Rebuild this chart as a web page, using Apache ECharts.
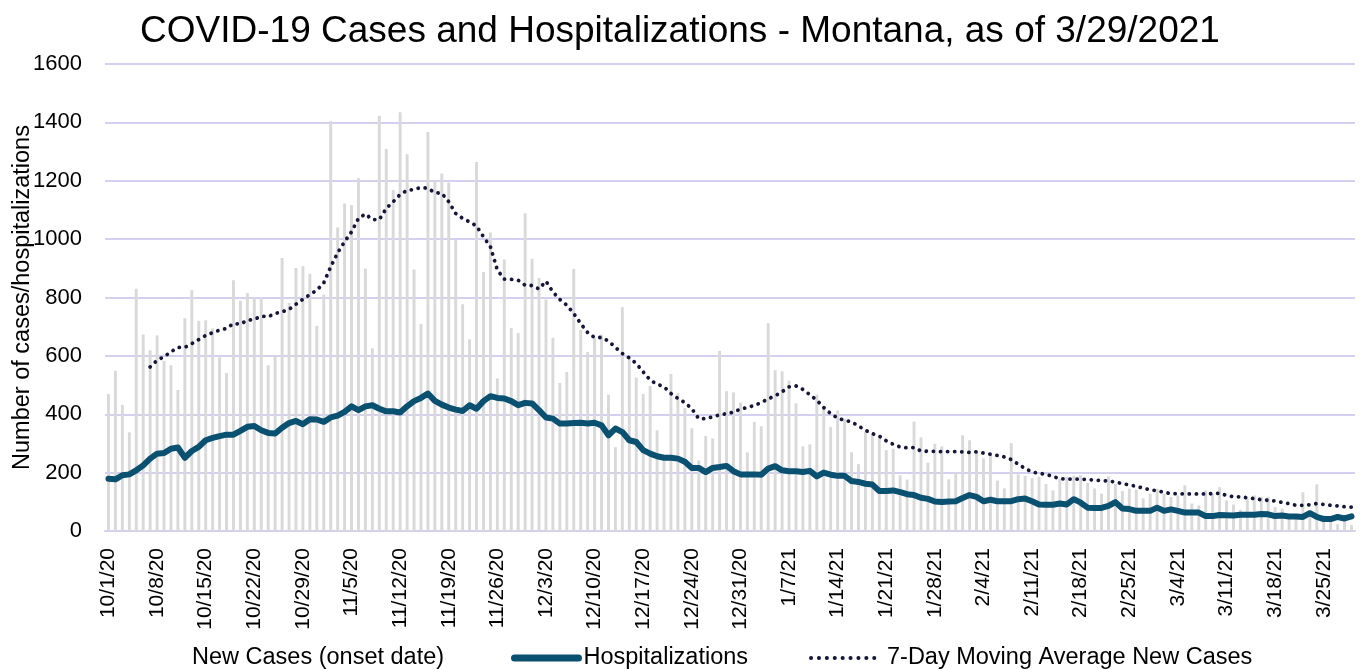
<!DOCTYPE html>
<html>
<head>
<meta charset="utf-8">
<script src="https://cdn.jsdelivr.net/npm/echarts@6/dist/echarts.min.js"></script>
<style>
html,body{margin:0;padding:0;background:#fff;}
#chart{width:1360px;height:669px;}
</style>
</head>
<body>
<div id="chart"></div>
<script>
// Daily dates 10/1/20 .. 3/29/21 (labels shown weekly)
const startDate = [2020, 9, 1];
const dayCount = 180;

const newCases = [
469,549,432,338,830,673,619,670,583,568,483,729,825,720,722,694,595,541,859,789,815,800,801,568,597,935,781,901,907,881,703,
810,1405,1040,1122,1117,1209,899,626,1423,1309,1168,1435,1291,896,709,1367,1199,1225,1194,997,777,657,1264,887,1023,523,930,696,678,1089,
933,867,793,662,507,545,898,690,613,663,673,467,287,767,600,526,469,497,345,250,538,472,421,352,242,326,317,617,479,475,440,
269,374,359,712,551,547,515,437,290,297,467,420,357,413,385,270,229,340,334,322,277,282,191,176,375,321,234,299,290,177,200,
328,311,271,249,265,173,146,301,194,189,181,186,161,139,179,185,189,191,165,146,128,187,162,137,145,142,112,128,
145,128,117,122,157,94,88,139,128,150,105,91,73,111,122,117,117,82,77,54,48,133,71,160,54,37,23,54,20
];

const hospitalizations = [
179,177,191,194,208,225,248,265,267,282,286,251,274,288,311,319,325,330,330,343,357,360,345,336,334,354,370,377,366,383,382,
374,389,395,408,427,414,427,431,419,410,410,406,427,445,456,471,446,433,423,416,411,431,419,445,462,456,454,445,431,439,
437,414,389,385,368,368,370,371,368,371,362,328,351,339,311,305,277,265,256,251,251,248,237,216,216,202,216,219,223,205,194,
194,194,193,214,222,208,205,205,202,206,187,200,193,189,189,171,168,162,159,137,137,139,133,126,123,114,110,101,99,101,102,
113,123,117,102,107,102,102,102,109,111,102,91,90,90,94,91,109,97,80,79,79,86,99,77,75,69,69,69,
80,69,74,69,63,63,63,51,51,55,54,53,56,56,56,58,57,51,53,50,50,48,61,48,41,41,48,43,50
];

const movingAvg = [
null,null,null,null,null,null,562,585,597,614,629,629,642,656,670,680,688,694,711,709,722,725,736,734,745,751,759,777,794,810,825,
850,905,953,991,1025,1071,1086,1067,1067,1105,1128,1153,1167,1170,1177,1174,1159,1157,1128,1088,1071,1059,1045,1008,974,894,863,862,859,842,
841,829,856,819,793,774,745,711,680,663,663,651,629,608,593,574,545,517,503,494,471,454,440,419,385,385,391,398,402,407,418,
423,430,440,453,463,477,494,497,485,467,448,423,402,387,379,374,360,345,334,325,309,297,288,285,286,274,273,273,272,272,272,
271,269,271,267,263,259,254,245,229,214,202,198,194,187,179,178,178,177,177,174,173,171,168,162,158,153,147,141,
138,133,128,128,127,127,127,127,128,129,122,117,117,114,111,107,105,103,98,94,88,88,90,94,91,88,86,83,82
];

const yTicks = {min: 0, max: 1600, interval: 200};

const dates = [];
for (let i = 0; i < dayCount; i++) {
  const d = new Date(startDate[0], startDate[1], startDate[2] + i);
  dates.push((d.getMonth() + 1) + '/' + d.getDate() + '/' + String(d.getFullYear()).slice(2));
}

const FONT = "'Liberation Sans', Arial, sans-serif";
const HOSP_COLOR = '#0a5070';
const MA_COLOR = '#16163a';
const chart = echarts.init(document.getElementById('chart'));
chart.setOption({
  animation: false,
  backgroundColor: '#fff',
  textStyle: {fontFamily: FONT, color: '#000'},
  title: {
    text: 'COVID-19 Cases and Hospitalizations - Montana, as of 3/29/2021',
    left: 'center', top: 8,
    textStyle: {fontFamily: FONT, fontSize: 37, fontWeight: 'normal', color: '#000'}
  },
  legend: [
    {
      left: 120, top: 641, itemWidth: 62, itemHeight: 10,
      textStyle: {fontFamily: FONT, fontSize: 23.5, color: '#000'},
      itemStyle: {opacity: 0},
      data: ['New Cases (onset date)']
    },
    {
      left: 506, top: 641, itemWidth: 64, itemHeight: 10,
      textStyle: {fontFamily: FONT, fontSize: 23.5, color: '#000'},
      itemStyle: {opacity: 0},
      lineStyle: {color: HOSP_COLOR, width: 7, cap: 'round'},
      data: ['Hospitalizations']
    },
    {
      left: 804, top: 641, itemWidth: 71, itemHeight: 10,
      textStyle: {fontFamily: FONT, fontSize: 23.5, color: '#000'},
      itemStyle: {opacity: 0},
      lineStyle: {color: MA_COLOR, width: 4, type: [0.1, 7.8], cap: 'round'},
      data: ['7-Day Moving Average New Cases']
    }
  ],
  grid: {left: 105, right: 5, top: 64, bottom: 138, outerBoundsMode: 'none', containLabel: false},
  xAxis: {
    type: 'category',
    data: dates,
    boundaryGap: true,
    axisLine: {show: true, lineStyle: {color: '#d4d0f0', width: 2}},
    axisTick: {show: false},
    axisLabel: {
      interval: 6, rotate: 90, margin: 17,
      fontFamily: FONT, fontSize: 21, color: '#000'
    },
    splitLine: {show: false}
  },
  yAxis: {
    type: 'value',
    min: yTicks.min, max: yTicks.max, interval: yTicks.interval,
    name: 'Number of cases/hospitalizations',
    nameLocation: 'middle',
    nameGap: 70,
    nameMoveOverlap: false,
    nameTextStyle: {fontFamily: FONT, fontSize: 23.5, color: '#000'},
    axisLine: {show: false},
    axisTick: {show: false},
    axisLabel: {
      margin: 23, fontFamily: FONT, fontSize: 22, color: '#000',
      formatter: function (v) { return String(v); }
    },
    splitLine: {lineStyle: {color: '#d4d0f0', width: 2}}
  },
  series: [
    {
      name: 'New Cases (onset date)',
      type: 'bar',
      data: newCases,
      barWidth: '42%',
      itemStyle: {color: '#d9d9d9'},
      z: 1
    },
    {
      name: 'Hospitalizations',
      type: 'line',
      data: hospitalizations,
      symbol: 'none',
      lineStyle: {color: HOSP_COLOR, width: 6, cap: 'round', join: 'round'},
      itemStyle: {color: HOSP_COLOR},
      z: 3
    },
    {
      name: '7-Day Moving Average New Cases',
      type: 'line',
      data: movingAvg,
      symbol: 'none',
      connectNulls: false,
      lineStyle: {color: MA_COLOR, width: 3.8, type: [0.1, 7], cap: 'round'},
      itemStyle: {color: MA_COLOR},
      z: 4
    }
  ]
});
</script>
</body>
</html>
